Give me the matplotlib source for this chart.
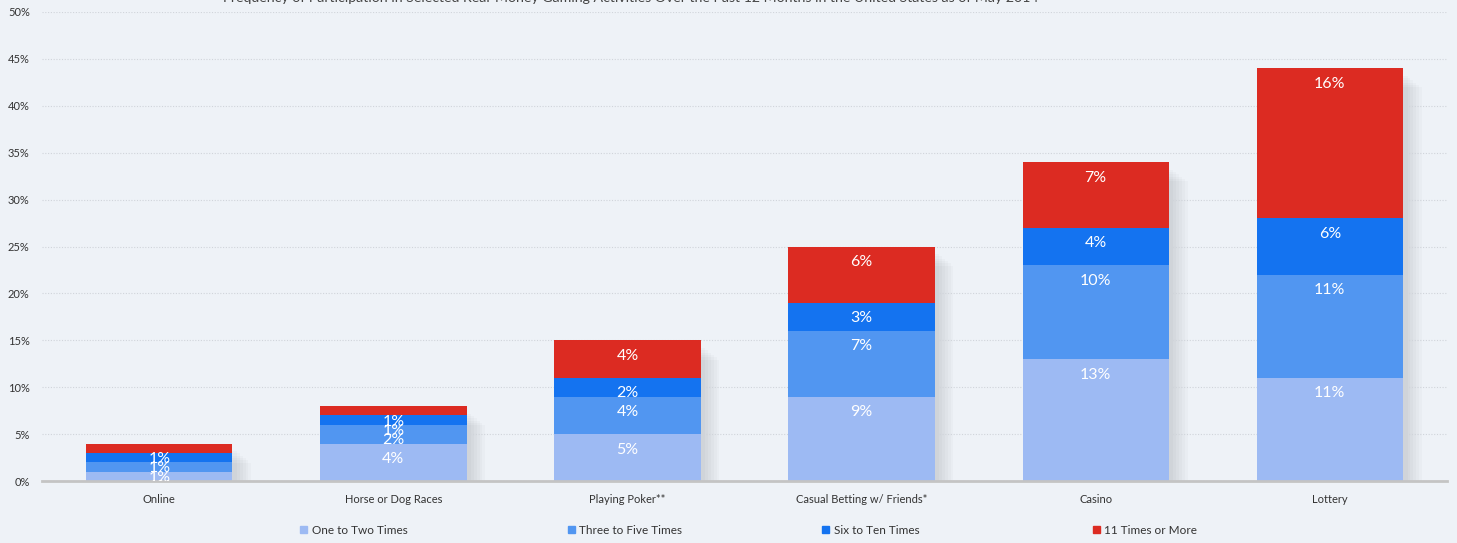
import matplotlib.pyplot as plt
import numpy as np
from matplotlib.ticker import FuncFormatter
from matplotlib.patches import Patch

plt.rcParams['font.family'] = ['Lato', 'DejaVu Sans']

categories = ['Online', 'Horse or Dog Races', 'Playing Poker**',
              'Casual Betting w/ Friends*', 'Casino', 'Lottery']
one_two = [1, 4, 5, 9, 13, 11]
three_five = [1, 2, 4, 7, 10, 11]
six_ten = [1, 1, 2, 3, 4, 6]
eleven_plus = [1, 1, 4, 6, 7, 16]

series = [
    ('One to Two Times', one_two, '#9dbaf3'),
    ('Three to Five Times', three_five, '#5196f1'),
    ('Six to Ten Times', six_ten, '#1473f0'),
    ('11 Times or More', eleven_plus, '#dc2b22'),
]

bg = '#eef2f7'
fig = plt.figure(figsize=(14.57, 5.43), dpi=100, facecolor=bg)
ax = fig.add_axes([0.029, 0.114, 0.964, 0.864], facecolor=bg)

x = np.arange(len(categories))
width = 0.625
totals = np.sum([s[1] for s in series], axis=0)

# soft shadow behind the bars
for k in range(6):
    ax.bar(x + 0.02 + k * 0.012, totals - 0.8 - k * 0.25, width, color='#000000',
           alpha=0.02, zorder=1, linewidth=0)

bottom = np.zeros(len(categories))
for name, vals, col in series:
    vals = np.array(vals, dtype=float)
    ax.bar(x, vals, width, bottom=bottom, color=col, label=name, zorder=2, linewidth=0)
    for xi, b, v in zip(x, bottom, vals):
        # labels sit just below the top of each segment
        ax.text(xi, b + v - 1.65, f'{int(v)}%', ha='center', va='center',
                color='white', fontsize=11.5, zorder=3, clip_on=True)
    bottom += vals

ax.set_ylim(0, 50)
ax.set_xlim(-0.5, len(categories) - 0.5)
ax.set_yticks(np.arange(0, 51, 5))
ax.yaxis.set_major_formatter(FuncFormatter(lambda v, p: f'{int(v)}%'))
ax.set_xticks(x)
ax.set_xticklabels(categories)
ax.tick_params(axis='both', length=0, labelsize=8, colors='#333333')
ax.tick_params(axis='x', pad=9)
ax.tick_params(axis='y', pad=9)
ax.grid(axis='y', linestyle=(0, (1, 1.5)), color='#d0d4da', linewidth=0.8, zorder=0)
for s in ['top', 'right', 'left']:
    ax.spines[s].set_visible(False)
ax.spines['bottom'].set_color('#c4c4c4')
ax.spines['bottom'].set_linewidth(2)

# legend items centred in their own slots
slot_x = [354, 625, 871, 1145]
for (name, vals, col), cx in zip(series, slot_x):
    leg = fig.legend(handles=[Patch(color=col, label=name)], loc='center',
                     bbox_to_anchor=(cx / 1457, 1 - 530 / 543), frameon=False,
                     fontsize=8.5, handlelength=0.6, handleheight=0.6,
                     handletextpad=0.4, labelcolor='#333333')

fig.text(631 / 1457, 1.003, 'Frequency of Participation in Selected Real-Money Gaming Activities '
         'Over the Past 12 Months in the United States as of May 2014',
         ha='center', va='center', fontsize=10.2, color='#444444')

fig.savefig('out.png', dpi=100, facecolor=bg)
